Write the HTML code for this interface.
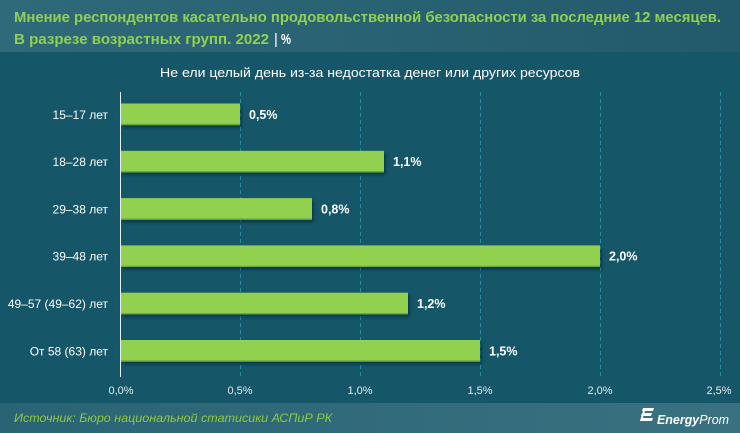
<!DOCTYPE html>
<html><head><meta charset="utf-8"><style>
html,body{margin:0;padding:0;background:#155668;}
svg{display:block;}
text{font-family:"Liberation Sans",sans-serif;}
</style></head><body>
<svg width="740" height="433" viewBox="0 0 740 433" xmlns="http://www.w3.org/2000/svg">
<defs>
<linearGradient id="hg" x1="0" y1="0" x2="1" y2="0">
<stop offset="0" stop-color="#2f6a7a"/><stop offset="1" stop-color="#235a6b"/>
</linearGradient>
<linearGradient id="fg" x1="0" y1="0" x2="1" y2="0">
<stop offset="0" stop-color="#296475"/><stop offset="1" stop-color="#3a7181"/>
</linearGradient>
<filter id="sh" x="-5%" y="-20%" width="110%" height="160%">
<feDropShadow dx="1.5" dy="2.5" stdDeviation="1.5" flood-color="#062c38" flood-opacity="0.7"/>
</filter>
</defs>
<rect x="0" y="0" width="740" height="433" fill="#155668"/>
<rect x="0" y="0" width="740" height="52" fill="url(#hg)"/>
<rect x="0" y="403" width="740" height="30" fill="url(#fg)"/>

<text x="14" y="22" font-size="15" font-weight="bold" fill="#92d050" textLength="707" lengthAdjust="spacingAndGlyphs">Мнение респондентов касательно продовольственной безопасности за последние 12 месяцев.</text>
<text x="14" y="44" font-size="15" font-weight="bold" fill="#92d050" textLength="255" lengthAdjust="spacingAndGlyphs">В разрезе возрастных групп. 2022</text>
<text x="274" y="44" font-size="15" fill="#ffffff">|</text>
<text x="281" y="44" font-size="15" font-weight="bold" fill="#ffffff" textLength="10" lengthAdjust="spacingAndGlyphs">%</text>

<text x="370" y="77" font-size="12.5" fill="#ffffff" text-anchor="middle" textLength="420" lengthAdjust="spacingAndGlyphs">Не ели целый день из-за недостатка денег или других ресурсов</text>

<g stroke="#2a8ca3" stroke-width="1" stroke-dasharray="4,3">
<line x1="240.5" y1="92" x2="240.5" y2="377"/>
<line x1="360.5" y1="92" x2="360.5" y2="377"/>
<line x1="480.5" y1="92" x2="480.5" y2="377"/>
<line x1="600.5" y1="92" x2="600.5" y2="377"/>
<line x1="720.5" y1="92" x2="720.5" y2="377"/>
</g>

<g filter="url(#sh)">
<rect x="121" y="103.5" width="119" height="21.6" fill="#92d050"/>
<rect x="121" y="150.8" width="263" height="21.6" fill="#92d050"/>
<rect x="121" y="198.1" width="191" height="21.6" fill="#92d050"/>
<rect x="121" y="245.4" width="479" height="21.6" fill="#92d050"/>
<rect x="121" y="292.7" width="287" height="21.6" fill="#92d050"/>
<rect x="121" y="340" width="359" height="21.6" fill="#92d050"/>
</g>
<g fill="#6fa83c">
<rect x="121" y="123.8" width="119" height="1.3"/>
<rect x="121" y="171.1" width="263" height="1.3"/>
<rect x="121" y="218.4" width="191" height="1.3"/>
<rect x="121" y="265.7" width="479" height="1.3"/>
<rect x="121" y="313" width="287" height="1.3"/>
<rect x="121" y="360.3" width="359" height="1.3"/>
</g>

<line x1="120.5" y1="92" x2="120.5" y2="377" stroke="#e8eef0" stroke-width="1"/>

<g font-size="12" fill="#ffffff" text-anchor="end">
<text x="108" y="118.8">15–17 лет</text>
<text x="108" y="166.1">18–28 лет</text>
<text x="108" y="213.4">29–38 лет</text>
<text x="108" y="260.7">39–48 лет</text>
<text x="108" y="308">49–57 (49–62) лет</text>
<text x="108" y="355.3">От 58 (63) лет</text>
</g>

<g font-size="12.5" font-weight="bold" fill="#ffffff">
<text x="249" y="118.8">0,5%</text>
<text x="393" y="166.1">1,1%</text>
<text x="321" y="213.4">0,8%</text>
<text x="609" y="260.7">2,0%</text>
<text x="417" y="308">1,2%</text>
<text x="489" y="355.3">1,5%</text>
</g>

<g font-size="11" fill="#e4ecee" text-anchor="middle">
<text x="121" y="394">0,0%</text>
<text x="240" y="394">0,5%</text>
<text x="360" y="394">1,0%</text>
<text x="480" y="394">1,5%</text>
<text x="600" y="394">2,0%</text>
<text x="719" y="394">2,5%</text>
</g>

<text x="14" y="422" font-size="12" font-style="italic" fill="#8fcb3e" textLength="318" lengthAdjust="spacingAndGlyphs">Источник: Бюро национальной статисики АСПиР РК</text>

<g fill="#ffffff">
<polygon points="643,408 654,408 653,411 642,411"/>
<polygon points="642,413 652,413 651,416 641,416"/>
<polygon points="641,418 653,418 652,421 640,421"/>
<polygon points="644,408 646,408 642,421 640,421"/>
</g>
<text x="657" y="424" font-size="13" font-style="italic" fill="#ffffff" textLength="72" lengthAdjust="spacingAndGlyphs"><tspan font-weight="bold">Energy</tspan>Prom</text>
</svg>
</body></html>
